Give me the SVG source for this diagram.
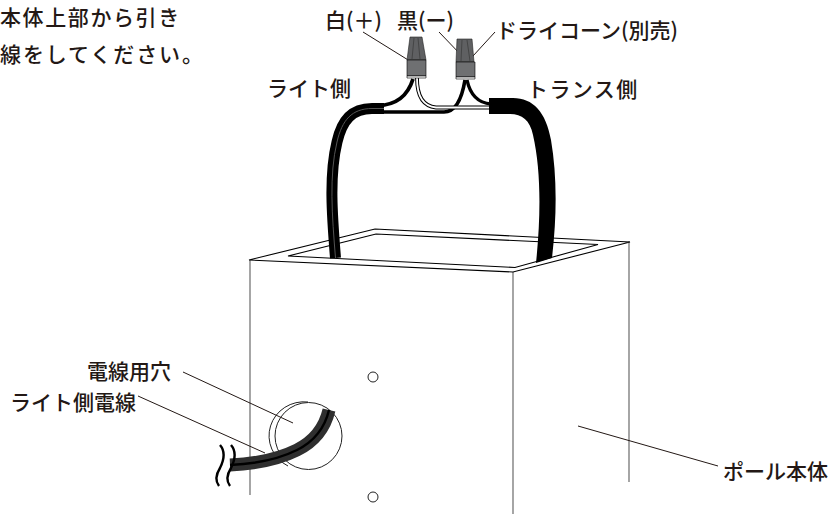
<svg xmlns="http://www.w3.org/2000/svg" width="838" height="514" viewBox="0 0 838 514">
<style>
text{font-family:"Noto Sans CJK JP","Noto Sans",sans-serif;font-size:21px;font-weight:500;fill:#231815}
.l{fill:none;stroke:#231815;stroke-width:1}
.g{fill:none;stroke:#808080;stroke-width:1.4}
.k{fill:none;stroke:#000;stroke-linecap:butt}
.cap{fill:#6f7072;stroke:#000;stroke-width:.6}
.top{fill:#5f6062;stroke:#222;stroke-width:.6}
</style>
<rect width="838" height="514" fill="#fff"/>
<g id="pole">
<path class="g" d="M250 260V495M513 272V514M629 241V482"/>
<path fill="#fff" stroke="#000" stroke-width="1.1" fill-rule="evenodd" d="M249 260L375 229L630 242L513 272ZM288 256L376 234L598 244.500L515 267.500Z"/>
<circle cx="373" cy="377" r="5" fill="#fff" stroke="#222" stroke-width="1"/>
<circle cx="373" cy="497" r="5" fill="#fff" stroke="#222" stroke-width="1"/>
</g>
<g id="hole">
<circle cx="308.500" cy="436" r="33.500" fill="#fff" stroke="#222" stroke-width="1"/>
<path fill="none" stroke="#222" stroke-width="1" d="M308 402A35 34 0 0 0 288 466"/>
</g>
<g id="connectors">
<path class="k" stroke-width="11" d="M335.500 258C332 215 329 175 337 142C342 120 352 108.500 372 108.500H384"/>
<path fill="none" stroke="#555" stroke-width="1" d="M335.500 258C332 215 329 175 337 142C342 120 352 108.500 372 108.500H384"/>
<path class="k" stroke-width="3.800" d="M378 105.500C398 105 408 95 413 79"/>
<path class="k" stroke-width="3.600" d="M380 112H444C456 112 462 98 465 80"/>
<path class="k" stroke-width="3.400" d="M467 80C470 94 478 103 491 104"/>
<path fill="none" stroke="#000" stroke-width="3.800" d="M417 78C417 92 421 106 436 107.500H491"/>
<path fill="none" stroke="#fff" stroke-width="1.800" d="M417 78C417 92 421 106 436 107.500H491"/>
<path fill="#000" d="M489 98H513C533 98 546 112 551 140C557 175 557 215 552 258L536 263C541 215 541 170 533 135C530 120 522 114 510 114H489Z"/>
<path fill="none" stroke="#2f2f2f" stroke-width="13" d="M230 465C252 464 277 460 297 450C315 441 325 427 329 410"/>
<path fill="none" stroke="#000" stroke-width="2.400" d="M230 465C252 464 277 460 297 450C315 441 325 427 329 410"/>
<path fill="none" stroke="#000" stroke-width="2.400" d="M220 445C226 452 224 460 220 468C215 476 216 482 219 486M231 445C237 452 235 460 231 468C226 476 227 482 230 486"/>
<path class="l" d="M363 32L413 63M439 32L463 57M495 32L473 56M183 372L293 423M138 396L265 453M578 426L718 466"/>
</g>
<g id="wire-nut-white">
<path class="top" d="M410 37H422L426 60H407Z"/>
<path fill="none" stroke="#333" stroke-width=".6" d="M414 38L412 59M418 38L420 59"/>
<path class="cap" d="M407 60H426V76H407Z"/>
<path fill="#fff" stroke="#000" stroke-width=".6" d="M407 76H426V78H407Z"/>
</g>
<g id="wire-nut-black">
<path class="top" d="M457 39H472L474 62H456Z"/>
<path fill="none" stroke="#333" stroke-width=".6" d="M462 40L461 61M467 40L470 61"/>
<path class="cap" d="M456 62H475V77H456Z"/>
<path fill="#fff" stroke="#000" stroke-width=".6" d="M456 77H475V79H456Z"/>
</g>
<g id="labels">
<text x="0" y="25" letter-spacing="1.600">本体上部から引き</text>
<text x="0" y="62" letter-spacing="1.900">線をしてください。</text>
<text x="325" y="28">白(＋)</text>
<text x="397" y="28">黒(ー)</text>
<text x="496" y="38" font-size="20">ドライコーン(別売)</text>
<text x="267" y="96">ライト側</text>
<text x="527" y="97" font-size="22" letter-spacing="1.400">トランス側</text>
<text x="87" y="379">電線用穴</text>
<text x="10" y="410">ライト側電線</text>
<text x="723" y="479" font-size="22">ポール本体</text>
</g>
</svg>
